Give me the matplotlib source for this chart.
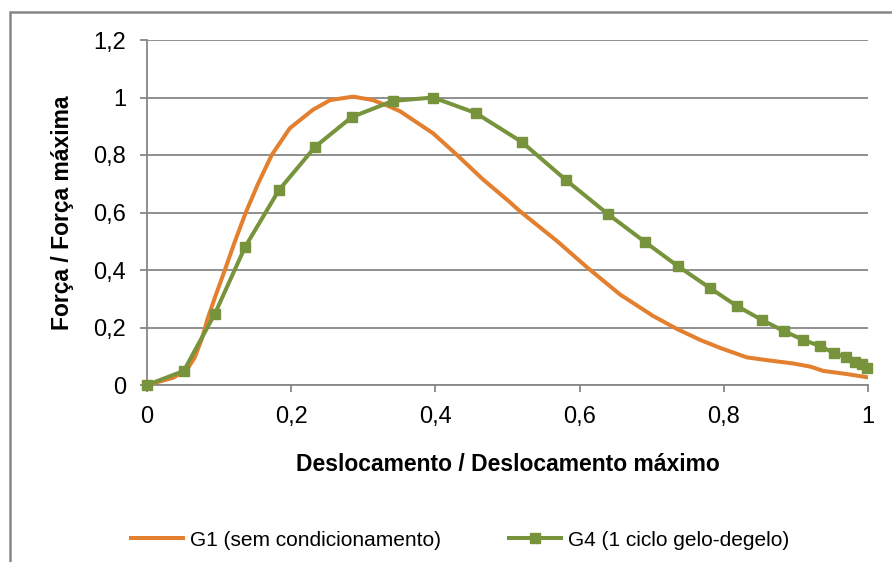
import matplotlib.pyplot as plt
from matplotlib.patches import Rectangle

plt.rcParams['font.family'] = ['Liberation Sans', 'DejaVu Sans']

# G1 (sem condicionamento) - curva
g1_x = [0, 0.036, 0.055, 0.066, 0.076, 0.084, 0.095, 0.108, 0.122, 0.137,
        0.154, 0.173, 0.198, 0.23, 0.254, 0.286, 0.313, 0.337, 0.351, 0.369,
        0.397, 0.43, 0.466, 0.50, 0.517, 0.569, 0.610, 0.656, 0.702, 0.735,
        0.767, 0.795, 0.832, 0.864, 0.896, 0.920, 0.938, 0.971, 0.999]
g1_y = [0, 0.025, 0.052, 0.095, 0.16, 0.23, 0.31, 0.40, 0.50, 0.60,
        0.70, 0.80, 0.893, 0.957, 0.991, 1.003, 0.991, 0.968, 0.952, 0.922,
        0.875, 0.80, 0.715, 0.643, 0.605, 0.50, 0.41, 0.315, 0.24, 0.195,
        0.157, 0.129, 0.096, 0.085, 0.075, 0.064, 0.049, 0.038, 0.027]

# G4 (1 ciclo gelo-degelo) - pontos com marcador
g4_x = [0, 0.051, 0.094, 0.136, 0.183, 0.233, 0.284, 0.341, 0.397, 0.456,
        0.520, 0.581, 0.639, 0.691, 0.736, 0.781, 0.818, 0.853, 0.883, 0.910,
        0.933, 0.953, 0.969, 0.982, 0.992, 0.999]
g4_y = [0, 0.049, 0.247, 0.480, 0.678, 0.828, 0.932, 0.988, 1.0, 0.946,
        0.845, 0.713, 0.595, 0.497, 0.414, 0.337, 0.275, 0.226, 0.188, 0.157,
        0.136, 0.111, 0.097, 0.080, 0.073, 0.059]

xticks = [0, 0.2, 0.4, 0.6, 0.8, 1.0]
xlabels = ['0', '0,2', '0,4', '0,6', '0,8', '1']
yticks = [0, 0.2, 0.4, 0.6, 0.8, 1.0, 1.2]
ylabels = ['0', '0,2', '0,4', '0,6', '0,8', '1', '1,2']

grey = '#878787'
orange = '#E3802F'
green = '#77933C'

fig = plt.figure(figsize=(8.92, 5.62), dpi=100)
ax = fig.add_axes([147/892, 1 - 385/562, 721/892, 345/562])

# moldura externa
fig.add_artist(Rectangle((10/892, -0.2), 1.2, 1 - 12/562 + 0.2,
                         transform=fig.transFigure, fill=False,
                         edgecolor=grey, linewidth=1.8))

ax.plot(g1_x, g1_y, color=orange, linewidth=2.9, label='G1 (sem condicionamento)',
        solid_joinstyle='round', zorder=3)
ax.plot(g4_x, g4_y, color=green, linewidth=2.9, marker='s', markersize=7,
        label='G4 (1 ciclo gelo-degelo)', zorder=4, clip_on=False,
        solid_joinstyle='round')

ax.set_xlim(0, 1)
ax.set_ylim(0, 1.2)
ax.set_xticks(xticks)
ax.set_xticklabels(xlabels)
ax.set_yticks(yticks)
ax.set_yticklabels(ylabels)
ax.yaxis.grid(True, color=grey, linewidth=1.3)
ax.set_axisbelow(True)
for s in ['top', 'right']:
    ax.spines[s].set_visible(False)
for s in ['left', 'bottom']:
    ax.spines[s].set_color(grey)
    ax.spines[s].set_linewidth(1.3)
ax.tick_params(axis='both', colors=grey, width=1.3, length=5, labelcolor='black',
               labelsize=17)
ax.tick_params(axis='x', pad=10)
ax.tick_params(axis='y', pad=10)

ax.set_xlabel('Deslocamento / Deslocamento máximo', fontsize=16.5, fontweight='bold',
              labelpad=18)
ax.set_ylabel('Força / Força máxima', fontsize=16.5, fontweight='bold', labelpad=14)

fig.legend(loc='center', bbox_to_anchor=(460/892, 1 - 540/562), ncol=2,
           frameon=False, fontsize=15, handlelength=2.5, columnspacing=3.3,
           handletextpad=0.3)

fig.savefig('out.png', dpi=100)
